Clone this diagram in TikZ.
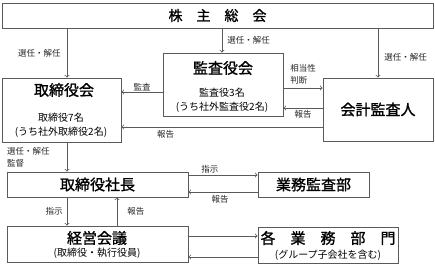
\documentclass[tikz,border=0pt]{standalone}
\usepackage{fontspec}
\setmainfont{Noto Sans CJK JP}
\newfontfamily\titlefont{Noto Sans CJK JP}[FakeBold=1.2]
\definecolor{linegray}{HTML}{5A5A5A}
\tikzset{
    box/.style={rectangle, draw=linegray, line width=0.9pt, inner sep=0pt},
    arr/.style={->, draw=linegray, line width=0.8pt},
    lbl/.style={inner sep=1pt, text=black!85, font=\fontsize{8.5}{12}\selectfont},
    ttl/.style={font=\titlefont\fontsize{15}{18}\selectfont},
    sub/.style={align=center, font=\fontsize{10}{14}\selectfont}
}

\begin{document}
\begin{tikzpicture}[x=1pt, y=-1pt]
    \useasboundingbox (0,0) rectangle (435,265);

    % Draw nodes
    \node[box, minimum width=431pt, minimum height=25pt, font=\titlefont\fontsize{14}{16}\selectfont] (soukai) at (217.5,15.5) {株　主　総　会};
    \node[box, minimum width=119pt, minimum height=64pt] (torishimari) at (61.5,110) {};
    \node[box, minimum width=120pt, minimum height=63pt] (kansayaku) at (223,84.5) {};
    \node[box, minimum width=110pt, minimum height=63pt, ttl] (kaikei) at (378,109.5) {会計監査人};
    \node[box, minimum width=181pt, minimum height=25pt, ttl] (shacho) at (97.5,184.5) {取締役社長};
    \node[box, minimum width=111pt, minimum height=25pt, ttl] (gyomu) at (313.5,184.5) {業務監査部};
    \node[box, minimum width=181pt, minimum height=36pt] (keiei) at (97.5,244) {};
    \node[box, minimum width=140pt, minimum height=36pt] (bumon) at (328,245) {};

    % Texts in boxes
    \node[ttl] (torishimariT) at (64,90) {取締役会};
    \node[sub] (torishimariS) at (61,125) {取締役7名\\(うち社外取締役2名)};
    \node[ttl] (kansayakuT) at (223,68) {監査役会};
    \node[sub] (kansayakuS) at (222,100) {監査役3名\\(うち社外監査役2名)};
    \node[ttl] (keieiT) at (97,238) {経営会議};
    \node[sub] (keieiS) at (97,253) {(取締役・執行役員)};
    \node[ttl] (bumonT) at (328,238) {各　業　務　部　門};
    \node[sub] (bumonS) at (328,255) {(グループ子会社を含む)};

    % Draw connections
    \draw[arr] (soukai.south -| 67,0) -- (torishimari.north -| 67,0) node[lbl, midway, left=5pt] {選任・解任};
    \draw[arr] (soukai.south -| 222,0) -- (kansayaku.north -| 222,0) node[lbl, midway, right=4pt] {選任・解任};
    \draw[arr] (soukai.south -| 378,0) -- (kaikei.north -| 378,0) node[lbl, pos=0.58, right=5pt] {選任・解任};
    \draw[arr] (kansayaku.west |- 0,92) -- (torishimari.east |- 0,92) node[lbl, midway, above] {監査};
    \draw[arr] (kansayaku.east |- 0,88) -- (kaikei.west |- 0,88) node[lbl, midway, above=2pt, align=left] {相当性\\判断};
    \draw[arr] (kaikei.west |- 0,108) -- (kansayaku.east |- 0,108) node[lbl, midway, below=1pt] {報告};
    \draw[arr] (kaikei.west |- 0,127) -- (torishimari.east |- 0,127) node[lbl, pos=0.78, below=2pt] {報告};
    \draw[arr] (torishimari.south -| 67,0) -- (shacho.north -| 67,0) node[lbl, midway, left=16pt, align=left] {選任・解任\\監督};
    \draw[arr] (shacho.east |- 0,175) -- (gyomu.west |- 0,175) node[lbl, pos=0.31, above] {指示};
    \draw[arr] (gyomu.west |- 0,192) -- (shacho.east |- 0,192) node[lbl, pos=0.54, below=2pt] {報告};
    \draw[arr] (shacho.south -| 67,0) -- (keiei.north -| 67,0) node[lbl, midway, left=3pt] {指示};
    \draw[arr] (keiei.north -| 117,0) -- (shacho.south -| 117,0) node[lbl, midway, right=9pt] {報告};
    \draw[arr] (keiei.east |- 0,236) -- (bumon.west |- 0,236);
    \draw[arr] (bumon.west |- 0,257) -- (keiei.east |- 0,257);
\end{tikzpicture}
\end{document}
